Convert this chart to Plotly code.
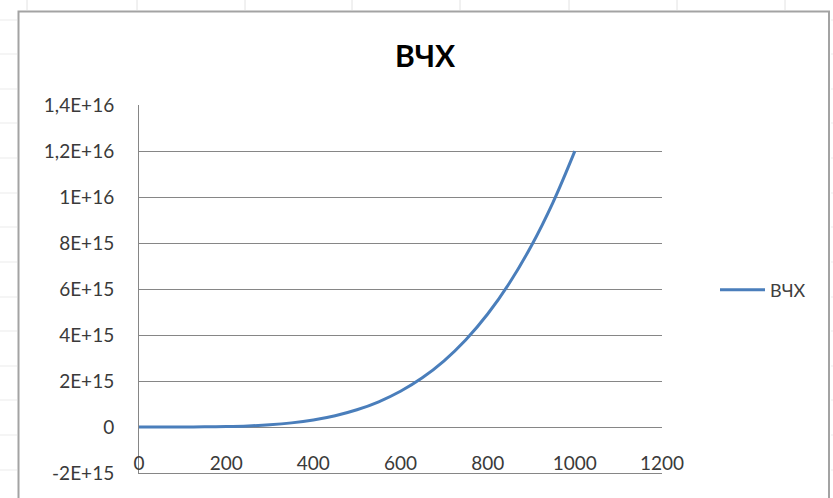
import plotly.graph_objects as go

# Frequency response series (ВЧХ)
x_vals = [0, 50, 100, 150, 200, 250, 300, 350, 400, 450, 500,
          550, 600, 650, 700, 750, 800, 850, 900, 950, 1000]
y_vals = [0, 7.5e10, 1.2e12, 6.1e12, 1.92e13, 4.69e13, 9.72e13, 1.80e14,
          3.07e14, 4.92e14, 7.50e14, 1.098e15, 1.555e15, 2.142e15,
          2.881e15, 3.797e15, 4.915e15, 6.263e15, 7.873e15, 9.774e15, 1.2e16]

series_name = "ВЧХ"
y_tickvals = [-2e15, 0, 2e15, 4e15, 6e15, 8e15, 1e16, 1.2e16, 1.4e16]
y_ticktext = ["-2E+15", "0", "2E+15", "4E+15", "6E+15", "8E+15", "1E+16", "1,2E+16", "1,4E+16"]
x_tickvals = [0, 200, 400, 600, 800, 1000, 1200]

W, H = 833, 498
L, R, T, B = 139, 662, 105, 473  # plot-area pixel edges


def px(xp):
    return (xp - L) / (R - L)


def py(yp):
    return (B - yp) / (B - T)


fig = go.Figure()
fig.add_trace(go.Scatter(
    x=x_vals, y=y_vals, mode="lines", name=series_name,
    line=dict(color="#4A7EBB", width=3, shape="spline"),
    showlegend=True,
))

shapes = []
# chart frame
shapes.append(dict(type="rect", xref="paper", yref="paper",
                   x0=px(18.5), x1=px(829), y0=py(520), y1=py(11.5),
                   line=dict(color="#A3A3A3", width=2), layer="below"))
# worksheet cell borders around the chart
for cx in [27, 137, 245, 352, 460, 569, 677, 785]:
    shapes.append(dict(type="line", xref="paper", yref="paper",
                       x0=px(cx), x1=px(cx), y0=py(0), y1=py(10),
                       line=dict(color="#E2E2E2", width=1), layer="below"))
for ry in [20, 54, 89, 123, 158, 193, 227, 262, 297, 331, 366, 400, 435, 470]:
    shapes.append(dict(type="line", xref="paper", yref="paper",
                       x0=px(0), x1=px(17), y0=py(ry), y1=py(ry),
                       line=dict(color="#EBEBEB", width=1), layer="below"))
    shapes.append(dict(type="line", xref="paper", yref="paper",
                       x0=px(831), x1=px(833), y0=py(ry), y1=py(ry),
                       line=dict(color="#EBEBEB", width=1), layer="below"))

fig.update_layout(
    width=W, height=H,
    margin=dict(l=L, r=W - R, t=T, b=H - B, pad=0),
    paper_bgcolor="white", plot_bgcolor="white",
    font=dict(family="Lato, Carlito, sans-serif", color="#3A3A3A", size=19),
    title=dict(text="<b>ВЧХ</b>", x=425 / W, xanchor="center",
               y=1 - 56 / H, yanchor="middle",
               font=dict(family="Lato, sans-serif", size=30, color="#000000")),
    showlegend=True,
    legend=dict(x=px(715), xanchor="left", y=py(290), yanchor="middle",
                font=dict(size=18, color="#404040"), itemwidth=45,
                bgcolor="rgba(0,0,0,0)", borderwidth=0),
    shapes=shapes,
    xaxis=dict(range=[0, 1200], tickvals=x_tickvals,
               showgrid=False, zeroline=False,
               showline=True, linecolor="#868686", linewidth=1,
               ticks="", ticklabelposition="inside",
               ticklabeloverflow="allow",
               tickfont=dict(size=19, color="#3A3A3A")),
    yaxis=dict(range=[-2.0005e15, 1.4005e16], tickvals=y_tickvals, ticktext=y_ticktext,
               showgrid=True, gridcolor="#868686", gridwidth=1,
               zeroline=False,
               showline=True, linecolor="#868686", linewidth=1,
               ticks="", ticklabelstandoff=20,
               ticklabeloverflow="allow",
               tickfont=dict(size=19, color="#3A3A3A")),
)

fig.write_html("out.html")
